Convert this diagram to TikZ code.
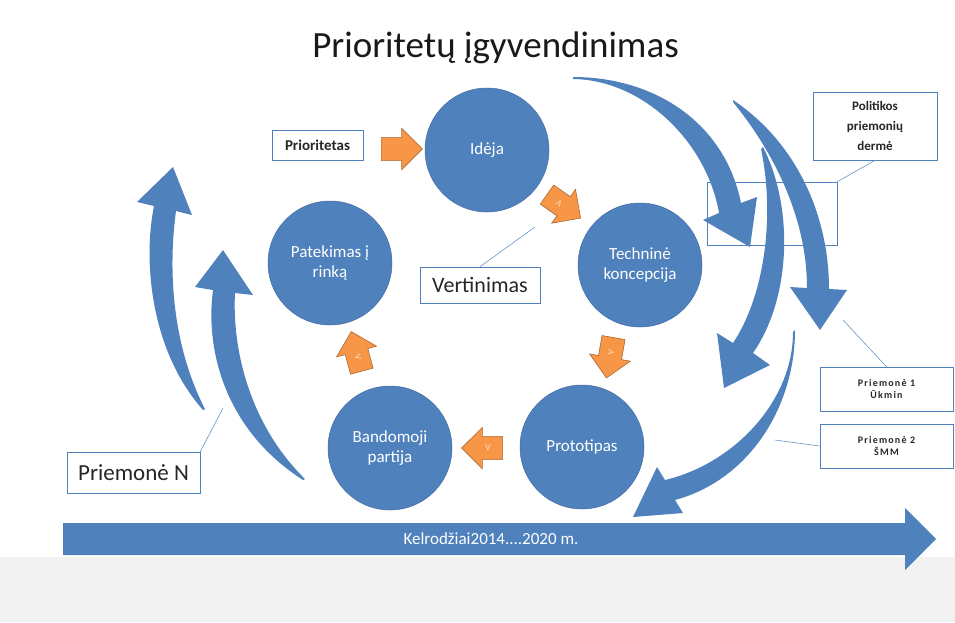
\documentclass[tikz,border=0pt]{standalone}
\usepackage{fontspec}
\setmainfont{Carlito}
\usepackage{tikz}
\usetikzlibrary{positioning}
\usetikzlibrary{shapes.arrows}
\definecolor{ofblue}{HTML}{4F81BD}
\definecolor{oforange}{HTML}{F79646}
\definecolor{bandgray}{HTML}{F2F2F2}
\tikzset{% looks of the cycle
        stage/.style={circle, fill=ofblue, draw=ofblue!85!black, line width=0.5pt,
          minimum size=124pt, inner sep=0pt, text=white, align=center,
          font=\fontsize{17}{20}\selectfont},
        vstep/.style={single arrow, fill=oforange, draw=oforange!70!black, line width=0.6pt,
          minimum height=41pt, single arrow head extend=9pt, inner xsep=2pt, inner ysep=8.5pt,
          text=white!75!oforange, font=\fontsize{9}{9}\selectfont},
        tag/.style={draw=ofblue, fill=white, line width=0.6pt, align=center, text=black!85},
        callout/.style={draw=ofblue!85, line width=0.6pt},
        bigarrow/.style={fill=ofblue}
        }

\begin{document}
\begin{tikzpicture}[x=1pt,y=-1pt]
\useasboundingbox (0,0) rectangle (955,622);
\fill[bandgray] (0,557) rectangle (955,622);

\node[anchor=base, text=black!90, font=\fontsize{37}{40}\selectfont] (title) at (495.5,57) {Prioritetų įgyvendinimas};

% curved arrows, right side
\fill[bigarrow] (573,77) .. controls (655,77) and (725,123) .. (741,203) -- (757,197) -- (750,247)
  -- (703,220) -- (719,213) .. controls (707,143) and (644,80) .. (573,79) -- cycle;
\fill[bigarrow] (733,100) .. controls (800,145) and (829,220) .. (829,289) -- (847,290) -- (820,330)
  -- (790,287) -- (807,288) .. controls (807,225) and (780,160) .. (733,102) -- cycle;
\fill[bigarrow] (763,147) .. controls (795,210) and (790,300) .. (753,353) -- (770,365) -- (724,388)
  -- (717,333) -- (733,343) .. controls (765,295) and (775,215) .. (761,149) -- cycle;
\fill[bigarrow] (795,330) .. controls (795,407) and (749,480) .. (675,500) -- (683,513) -- (633,517)
  -- (657,467) -- (665,480) .. controls (733,464) and (793,402) .. (793,332) -- cycle;
% curved arrows, left side
\fill[bigarrow] (203,410) .. controls (150,350) and (143,260) .. (154,206) -- (137,202) -- (173,167)
  -- (192,215) -- (176,211) .. controls (168,270) and (172,345) .. (205,409) -- cycle;
\fill[bigarrow] (303,480) .. controls (225,430) and (205,350) .. (213,290) -- (195,287) -- (223,250)
  -- (253,295) -- (235,293) .. controls (232,350) and (250,425) .. (305,479) -- cycle;

% time line
\fill[bigarrow] (63,523) -- (905,523) -- (905,508) -- (936,539) -- (905,570) -- (905,555) -- (63,555) -- cycle;
\node[text=white, font=\fontsize{17}{19}\selectfont] (road) at (491,539) {Kelrodžiai2014....2020 m.};

\node[stage] (ideja) at (487,150) {Idėja};
\node[stage] (techn) at (640,265) {Techninė\\koncepcija};
\node[stage] (proto) at (582,447) {Prototipas};
\node[stage] (band) at (390,448) {Bandomoji\\partija};
\node[stage] (patek) at (330,263) {Patekimas į\\rinką};

\node[vstep] (v1) at (396,149) {\phantom{V}};
\node[vstep, rotate=-35] (v2) at (559,203) {\rotatebox{180}{V}};
\node[vstep, rotate=-100] (v3) at (611,352) {\rotatebox{180}{V}};
\node[vstep, rotate=180] (v4) at (488,448) {\rotatebox{180}{V}};
\node[vstep, rotate=105] (v5) at (358,357) {\rotatebox{180}{V}};

\node[tag, minimum width=91pt, minimum height=30pt, font=\bfseries\fontsize{15}{17}\selectfont] (prior) at (317.5,145) {Prioritetas};
\node[tag, minimum width=120pt, minimum height=36pt, font=\fontsize{22}{24}\selectfont] (vert) at (480,285) {Vertinimas};
\node[tag, minimum width=124pt, minimum height=68pt, inner sep=1pt, font=\bfseries\fontsize{13}{20}\selectfont] (derme) at (875,126) {Politikos\\priemonių\\dermė};
\node[draw=ofblue, line width=0.6pt, minimum width=130pt, minimum height=63pt] (focus) at (772,213.5) {};
\node[tag, minimum width=133pt, minimum height=44pt, font=\bfseries\fontsize{10}{12}\selectfont\addfontfeature{LetterSpace=12}] (prm1) at (886.5,389) {Priemonė 1\\Ūkmin};
\node[tag, minimum width=133pt, minimum height=44pt, font=\bfseries\fontsize{10}{12}\selectfont\addfontfeature{LetterSpace=12}] (prm2) at (886.5,446) {Priemonė 2\\ŠMM};
\node[tag, minimum width=133pt, minimum height=41pt, font=\fontsize{23}{25}\selectfont] (prmN) at (133.5,472.5) {Priemonė N};

\coordinate (vtip) at (535,227);
\coordinate (p1tip) at (843,320);
\coordinate (p2tip) at (775,440);
\coordinate (pNtip) at (223,408);
\draw[callout] (vert.north) -- (vtip);
\draw[callout] (focus.north east) -- (derme.south);
\draw[callout] (prm1.north) -- (p1tip);
\draw[callout] (prm2.west) -- (p2tip);
\draw[callout] (prmN.north east) -- (pNtip);
\end{tikzpicture}
\end{document}
